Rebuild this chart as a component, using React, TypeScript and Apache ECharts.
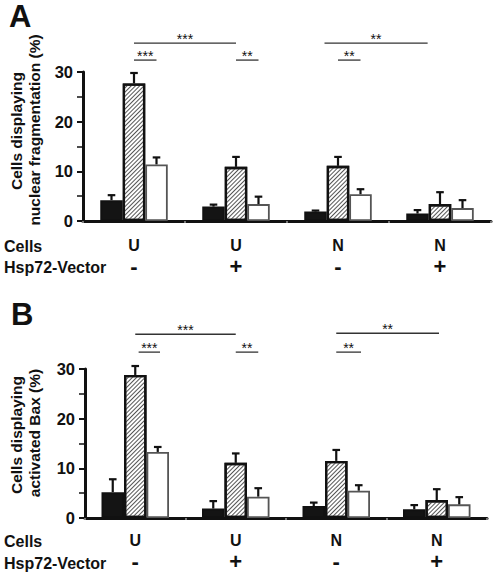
import React, { useEffect, useRef } from 'react';
import * as echarts from 'echarts';

// ---- data ----
const cellLabels = ['U', 'U', 'N', 'N'];
const vectorLabels = ['-', '+', '-', '+'];
const yTicks = [0, 10, 20, 30];

// Panel A: nuclear fragmentation (%)
const fragBlack = [4.2, 2.9, 1.9, 1.5];
const fragBlackErr = [1.0, 0.4, 0.2, 0.7];
const fragHatched = [27.7, 10.9, 11.1, 3.4];
const fragHatchedErr = [2.1, 2.0, 1.8, 2.4];
const fragWhite = [11.4, 3.4, 5.4, 2.6];
const fragWhiteErr = [1.4, 1.5, 1.0, 1.6];

// Panel B: activated Bax (%)
const baxBlack = [5.2, 1.9, 2.4, 1.75];
const baxBlackErr = [2.6, 1.5, 0.7, 0.85];
const baxHatched = [28.8, 11.1, 11.5, 3.6];
const baxHatchedErr = [1.8, 1.9, 2.2, 2.2];
const baxWhite = [13.3, 4.3, 5.5, 2.75];
const baxWhiteErr = [1.0, 1.7, 1.1, 1.45];

// significance brackets: [fromGroup, fromBar, toGroup, toBar, level, label]
const fragBrackets: [number, number, number, number, number, string][] = [
  [0, 0, 1, 0, 35.8, '***'],
  [0, 0, 0, 1, 32.4, '***'],
  [1, 0, 1, 1, 32.4, '**'],
  [2, -0.6, 3, -0.55, 35.8, '**'],
  [2, 0, 2, 1, 32.4, '**'],
];
const baxBrackets: [number, number, number, number, number, string][] = [
  [0, 0, 1, 0, 37.0, '***'],
  [0, 0.15, 0, 1.1, 33.4, '***'],
  [1, 0, 1, 1, 33.4, '**'],
  [2, 0, 3, 0.1, 37.2, '**'],
  [2, 0, 2, 1.1, 33.4, '**'],
];

const FONT = '"Liberation Sans", Arial, sans-serif';
const BAR_W = 22.5;

function errData(vals: number[], errs: number[], slot: number) {
  return vals.map((v, i) => [i, v, errs[i], slot]);
}

const errRender = (params: any, api: any) => {
  const ci = api.value(0);
  const v = api.value(1);
  const e = api.value(2);
  const slot = api.value(3);
  const base = api.coord([ci, v]);
  const top = api.coord([ci, v + e]);
  const x = base[0] + slot * BAR_W;
  const st = { stroke: '#111', lineWidth: 2.2 };
  return {
    type: 'group',
    children: [
      { type: 'line', shape: { x1: x, y1: base[1], x2: x, y2: top[1] }, style: st },
      { type: 'line', shape: { x1: x - 3.8, y1: top[1], x2: x + 3.8, y2: top[1] }, style: st },
    ],
  };
};

function bracketRender(list: any[]) {
  return (params: any, api: any) => {
    const b = list[params.dataIndex];
    const p1 = api.coord([b[0], b[4]]);
    const p2 = api.coord([b[2], b[4]]);
    const x1 = p1[0] + b[1] * BAR_W;
    const x2 = p2[0] + b[3] * BAR_W;
    const y = p1[1];
    return {
      type: 'group',
      children: [
        { type: 'line', shape: { x1, y1: y, x2, y2: y }, style: { stroke: '#333', lineWidth: 1.3 } },
        {
          type: 'text',
          style: {
            text: b[5], x: (x1 + x2) / 2, y: y + 3, align: 'center', verticalAlign: 'bottom',
            font: `14px ${FONT}`, fill: '#111',
          },
        },
      ],
    };
  };
}

const hatchDecal = {
  symbol: 'rect',
  symbolSize: 1,
  color: '#555',
  dashArrayX: [1, 0],
  dashArrayY: [0.9, 1.5],
  rotation: -Math.PI / 4,
};

function panelSeries(idx: number, black: number[], blackErr: number[], hatched: number[], hatchedErr: number[], white: number[], whiteErr: number[], brackets: any[]) {
  const common = { type: 'bar', xAxisIndex: idx, yAxisIndex: idx, barWidth: BAR_W, barGap: '0%' };
  return [
    { ...common, name: 'black', data: black, itemStyle: { color: '#141414', borderColor: '#111', borderWidth: 2 } },
    { ...common, name: 'hatched', data: hatched, itemStyle: { color: '#fff', borderColor: '#111', borderWidth: 2.3, decal: hatchDecal } },
    { ...common, name: 'white', data: white, itemStyle: { color: '#fff', borderColor: '#555', borderWidth: 1.8 } },
    { type: 'custom', xAxisIndex: idx, yAxisIndex: idx, clip: false, z: 5, renderItem: errRender, data: errData(black, blackErr, -1), encode: { x: 0, y: 1 } },
    { type: 'custom', xAxisIndex: idx, yAxisIndex: idx, clip: false, z: 5, renderItem: errRender, data: errData(hatched, hatchedErr, 0), encode: { x: 0, y: 1 } },
    { type: 'custom', xAxisIndex: idx, yAxisIndex: idx, clip: false, z: 5, renderItem: errRender, data: errData(white, whiteErr, 1), encode: { x: 0, y: 1 } },
    { type: 'custom', xAxisIndex: idx, yAxisIndex: idx, clip: false, z: 5, renderItem: bracketRender(brackets), data: brackets.map((b) => [b[0], b[4]]), encode: { x: 0, y: 1 } },
  ];
}

function xAxisCfg(idx: number, margin: number) {
  return {
    type: 'category',
    gridIndex: idx,
    data: cellLabels.map((c, i) => c + vectorLabels[i]),
    axisLine: { lineStyle: { color: '#111', width: 3 } },
    axisTick: { show: true, length: 2, lineStyle: { color: '#999', width: 1.5 } },
    axisLabel: {
      margin,
      formatter: (_: string, i: number) => `{c|${cellLabels[i]}}\n{v|${vectorLabels[i]}}`,
      rich: {
        c: { fontFamily: FONT, fontWeight: 'bold', fontSize: 16, lineHeight: 21, color: '#111' },
        v: { fontFamily: FONT, fontWeight: 'bold', fontSize: 22, lineHeight: 21, color: '#111' },
      },
    },
  };
}

function yAxisCfg(idx: number) {
  return {
    type: 'value',
    gridIndex: idx,
    min: yTicks[0],
    max: yTicks[yTicks.length - 1],
    interval: yTicks[1] - yTicks[0],
    splitLine: { show: false },
    axisLine: { show: true, lineStyle: { color: '#111', width: 3 } },
    axisTick: { show: true, length: 6, lineStyle: { color: '#111', width: 2 } },
    minorTick: { show: true, splitNumber: 2, length: 6, lineStyle: { color: '#111', width: 1.5 } },
    axisLabel: { margin: 10, fontFamily: FONT, fontWeight: 'bold', fontSize: 16.5, color: '#111' },
  };
}

function boldText(text: string, x: number, y: number, size: number, extra: any = {}) {
  return {
    type: 'text', x, y, ...extra,
    style: { text, font: `bold ${size}px ${FONT}`, fill: '#111', ...(extra.style || {}) },
  };
}

const rot = (text: string, x: number, y: number) =>
  boldText(text, x, y, 15.5, { rotation: Math.PI / 2, style: { align: 'center', verticalAlign: 'middle' } });

export default function App() {
  const ref = useRef<HTMLDivElement>(null);
  useEffect(() => {
    if (!ref.current) return;
    const chart = echarts.init(ref.current, null, { renderer: 'svg' });
    chart.setOption({
      animation: false,
      backgroundColor: '#fff',
      grid: [
        { left: 83, top: 72, width: 408, height: 149 },
        { left: 85, top: 369, width: 402, height: 149 },
      ],
      xAxis: [xAxisCfg(0, 14), xAxisCfg(1, 12)],
      yAxis: [yAxisCfg(0), yAxisCfg(1)],
      series: [
        ...panelSeries(0, fragBlack, fragBlackErr, fragHatched, fragHatchedErr, fragWhite, fragWhiteErr, fragBrackets),
        ...panelSeries(1, baxBlack, baxBlackErr, baxHatched, baxHatchedErr, baxWhite, baxWhiteErr, baxBrackets),
      ],
      graphic: [
        boldText('A', 9, 1, 31),
        boldText('B', 11, 299, 31),
        boldText('Cells', 4, 246, 16, { style: { verticalAlign: 'middle' } }),
        boldText('Hsp72-Vector', 4, 267, 16, { style: { verticalAlign: 'middle' } }),
        boldText('Cells', 4, 541, 16, { style: { verticalAlign: 'middle' } }),
        boldText('Hsp72-Vector', 4, 563, 16, { style: { verticalAlign: 'middle' } }),
        rot('Cells displaying', 16, 131),
        rot('nuclear fragmentation (%)', 34, 130),
        rot('Cells displaying', 16, 435),
        rot('activated Bax (%)', 34, 433),
      ],
    });
    return () => chart.dispose();
  }, []);
  return <div ref={ref} style={{ width: 498, height: 577, position: 'absolute', left: 0, top: 0 }} />;
}
